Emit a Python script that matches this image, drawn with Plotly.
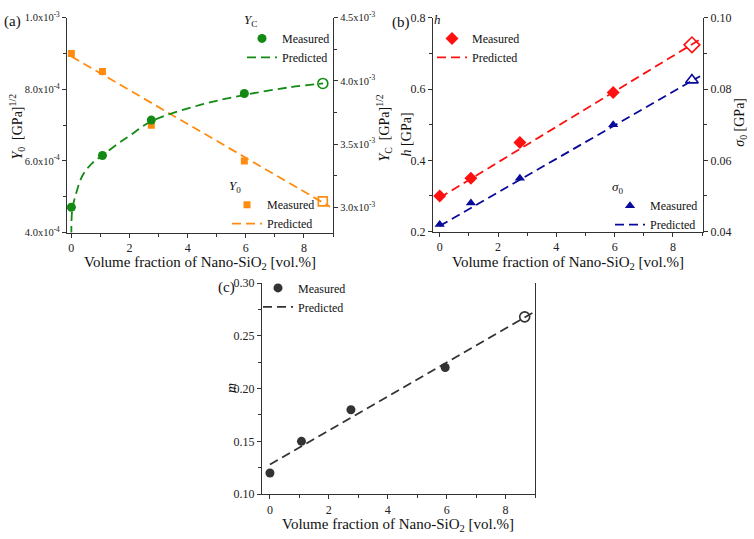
import plotly.graph_objects as go

W, H = 754, 539
FONT = "Liberation Serif, Times New Roman, Times, serif"

# ---------------- data ----------------
x_meas = [0, 1.07, 2.75, 5.95]
x_pred = [8.65]

# panel (a)
yc_meas = [3.00e-3, 3.41e-3, 3.69e-3, 3.90e-3]
yc_pred_pt = [3.98e-3]
yc_curve_x = [0, 0.03, 0.14, 0.38, 0.72, 1.07, 1.58, 2.03, 2.75, 4.43, 5.98, 7.53, 8.66]
yc_curve_y = [2.78e-3, 2.98e-3, 3.09e-3, 3.25e-3, 3.35e-3, 3.41e-3, 3.50e-3, 3.57e-3,
              3.68e-3, 3.81e-3, 3.89e-3, 3.95e-3, 3.98e-3]
y0_meas = [9.0e-4, 8.5e-4, 7.0e-4, 6.0e-4]
y0_pred_pt = [4.87e-4]
y0_line_x = [0, 8.9]
y0_line_y = [8.92e-4, 4.72e-4]

# panel (b)
h_meas = [0.30, 0.35, 0.45, 0.59]
h_pred_pt = [0.724]
h_line_x = [0, 8.95]
h_line_y = [0.295, 0.74]
s0_meas = [0.042, 0.048, 0.055, 0.070]
s0_pred_pt = [0.0825]
s0_line_x = [0, 8.93]
s0_line_y = [0.0416, 0.0836]

# panel (c)
m_meas = [0.12, 0.15, 0.18, 0.22]
m_pred_pt = [0.268]
m_line_x = [0, 8.93]
m_line_y = [0.128, 0.272]

# tick labels
x_ticks = [0, 2, 4, 6, 8]
ya_left_vals = [4e-4, 6e-4, 8e-4, 1e-3]
ya_left_text = ["4.0x10<sup>-4</sup>", "6.0x10<sup>-4</sup>", "8.0x10<sup>-4</sup>", "1.0x10<sup>-3</sup>"]
ya_left_minor = [5e-4, 7e-4, 9e-4]
ya_right_vals = [3.0e-3, 3.5e-3, 4.0e-3, 4.5e-3]
ya_right_text = ["3.0x10<sup>-3</sup>", "3.5x10<sup>-3</sup>", "4.0x10<sup>-3</sup>", "4.5x10<sup>-3</sup>"]
ya_right_minor = [3.25e-3, 3.75e-3, 4.25e-3]

GREEN = "#138a13"
ORANGE = "#ff8c10"
RED = "#ff1010"
BLUE = "#0a0a9a"
GRAY = "#333333"
DASH = "9px,5px"


def px(x):
    return x / W


def py(y):
    return 1 - y / H


fig = go.Figure()

# ---- (a) Y_C (right axis) ----
fig.add_trace(go.Scatter(x=x_meas, y=yc_meas, mode="markers", name="Measured",
                         marker=dict(symbol="circle", size=9, color=GREEN),
                         xaxis="x", yaxis="y2", legend="legend"))
fig.add_trace(go.Scatter(x=yc_curve_x, y=yc_curve_y, mode="lines", name="Predicted",
                         line=dict(color=GREEN, dash=DASH, width=1.8, shape="spline"),
                         xaxis="x", yaxis="y2", legend="legend"))
fig.add_trace(go.Scatter(x=x_pred, y=yc_pred_pt, mode="markers", showlegend=False,
                         marker=dict(symbol="circle-open", size=10, color=GREEN, line=dict(width=1.6)),
                         xaxis="x", yaxis="y2"))
# ---- (a) Y_0 (left axis) ----
fig.add_trace(go.Scatter(x=x_meas, y=y0_meas, mode="markers", name="Measured",
                         marker=dict(symbol="square", size=7, color=ORANGE),
                         xaxis="x", yaxis="y", legend="legend2"))
fig.add_trace(go.Scatter(x=y0_line_x, y=y0_line_y, mode="lines", name="Predicted",
                         line=dict(color=ORANGE, dash=DASH, width=1.8),
                         xaxis="x", yaxis="y", legend="legend2"))
fig.add_trace(go.Scatter(x=x_pred, y=y0_pred_pt, mode="markers", showlegend=False,
                         marker=dict(symbol="square-open", size=9, color=ORANGE, line=dict(width=1.6)),
                         xaxis="x", yaxis="y"))

# ---- (b) h (left) ----
fig.add_trace(go.Scatter(x=x_meas, y=h_meas, mode="markers", name="Measured",
                         marker=dict(symbol="diamond", size=10, color=RED),
                         xaxis="x2", yaxis="y3", legend="legend3"))
fig.add_trace(go.Scatter(x=h_line_x, y=h_line_y, mode="lines", name="Predicted",
                         line=dict(color=RED, dash=DASH, width=1.8),
                         xaxis="x2", yaxis="y3", legend="legend3"))
fig.add_trace(go.Scatter(x=x_pred, y=h_pred_pt, mode="markers", showlegend=False,
                         marker=dict(symbol="diamond-open", size=12, color=RED, line=dict(width=1.6)),
                         xaxis="x2", yaxis="y3"))
# ---- (b) sigma0 (right) ----
fig.add_trace(go.Scatter(x=x_meas, y=s0_meas, mode="markers", name="Measured",
                         marker=dict(symbol="triangle-up", size=9, color=BLUE),
                         xaxis="x2", yaxis="y4", legend="legend4"))
fig.add_trace(go.Scatter(x=s0_line_x, y=s0_line_y, mode="lines", name="Predicted",
                         line=dict(color=BLUE, dash=DASH, width=1.8),
                         xaxis="x2", yaxis="y4", legend="legend4"))
fig.add_trace(go.Scatter(x=x_pred, y=s0_pred_pt, mode="markers", showlegend=False,
                         marker=dict(symbol="triangle-up-open", size=11, color=BLUE, line=dict(width=1.6)),
                         xaxis="x2", yaxis="y4"))

# ---- (c) m ----
fig.add_trace(go.Scatter(x=x_meas, y=m_meas, mode="markers", name="Measured",
                         marker=dict(symbol="circle", size=9, color=GRAY),
                         xaxis="x3", yaxis="y5", legend="legend5"))
fig.add_trace(go.Scatter(x=m_line_x, y=m_line_y, mode="lines", name="Predicted",
                         line=dict(color=GRAY, dash=DASH, width=1.8),
                         xaxis="x3", yaxis="y5", legend="legend5"))
fig.add_trace(go.Scatter(x=x_pred, y=m_pred_pt, mode="markers", showlegend=False,
                         marker=dict(symbol="circle-open", size=10, color=GRAY, line=dict(width=1.6)),
                         xaxis="x3", yaxis="y5"))

tickfont = dict(family=FONT, size=12, color="#222")
expfont = dict(family=FONT, size=10.5, color="#222")
minor_common = dict(ticks="outside", ticklen=3, tickwidth=1, tickcolor="#333")


def xaxis_common(domain, anchor, rng):
    return dict(domain=domain, anchor=anchor, range=rng, showgrid=False, zeroline=False,
                showline=True, linecolor="#333", linewidth=1.2,
                ticks="outside", ticklen=4, tickwidth=1, tickcolor="#333",
                tickmode="array", tickvals=x_ticks, tickfont=tickfont,
                minor=dict(dtick=1, tick0=1, **minor_common))


def yaxis_common(domain, anchor, rng, **kw):
    d = dict(domain=domain, anchor=anchor, range=rng, showgrid=False, zeroline=False,
             showline=True, linecolor="#333", linewidth=1.2,
             ticks="outside", ticklen=4, tickwidth=1, tickcolor="#333", tickfont=tickfont)
    d.update(kw)
    return d


dom_ax = [px(67), px(333)]
dom_ay = [py(231), py(10)]
dom_bx = [px(433), px(703)]
dom_by = [py(230), py(10)]
dom_cx = [px(262), px(535)]
dom_cy = [py(500), py(283)]

fig.update_layout(
    width=W, height=H, margin=dict(l=0, r=0, t=0, b=0),
    paper_bgcolor="white", plot_bgcolor="white",
    font=dict(family=FONT, size=13, color="#111"),
    xaxis=xaxis_common(dom_ax, "y", [-0.15, 9.0]),
    yaxis=yaxis_common(dom_ay, "x", [4e-4, 1e-3], tickmode="array", tickvals=ya_left_vals,
                       ticktext=ya_left_text, tickfont=expfont,
                       minor=dict(tickmode="array", tickvals=ya_left_minor, **minor_common)),
    yaxis2=yaxis_common(dom_ay, "x", [2.8e-3, 4.5e-3], overlaying="y", side="right",
                        tickmode="array", tickvals=ya_right_vals, ticktext=ya_right_text,
                        tickfont=expfont,
                        minor=dict(tickmode="array", tickvals=ya_right_minor, **minor_common)),
    xaxis2=xaxis_common(dom_bx, "y3", [-0.23, 9.03]),
    yaxis3=yaxis_common(dom_by, "x2", [0.2, 0.8], tickmode="array",
                        tickvals=[0.2, 0.4, 0.6, 0.8], ticktext=["0.2", "0.4", "0.6", "0.8"],
                        minor=dict(tickmode="array", tickvals=[0.3, 0.5, 0.7], **minor_common)),
    yaxis4=yaxis_common(dom_by, "x2", [0.04, 0.10], overlaying="y3", side="right",
                        tickmode="array", tickvals=[0.04, 0.06, 0.08, 0.10],
                        ticktext=["0.04", "0.06", "0.08", "0.10"],
                        minor=dict(tickmode="array", tickvals=[0.05, 0.07, 0.09], **minor_common)),
    xaxis3=xaxis_common(dom_cx, "y5", [-0.27, 9.0]),
    yaxis5=yaxis_common(dom_cy, "x3", [0.10, 0.30], tickmode="array",
                        tickvals=[0.10, 0.15, 0.20, 0.25, 0.30],
                        ticktext=["0.10", "0.15", "0.20", "0.25", "0.30"], mirror=True,
                        minor=dict(tickmode="array", tickvals=[0.125, 0.175, 0.225, 0.275], **minor_common)),
)

leg_common = dict(bgcolor="rgba(0,0,0,0)", borderwidth=0, xanchor="left", yanchor="top",
                  font=dict(family=FONT, size=12, color="#111"), tracegroupgap=0,
                  itemclick=False)
tfont = dict(family=FONT, size=13, color="#111")
fig.update_layout(
    legend=dict(x=px(242), y=py(-1), title=dict(text="<i>Y</i><sub>C</sub>", font=tfont), **leg_common),
    legend2=dict(x=px(227), y=py(170), title=dict(text="<i>Y</i><sub>0</sub>", font=tfont), **leg_common),
    legend3=dict(x=px(432), y=py(-1), title=dict(text="<i>h</i>", font=tfont), **leg_common),
    legend4=dict(x=px(610), y=py(171), title=dict(text="<i>σ</i><sub>0</sub>", font=tfont), **leg_common),
    legend5=dict(x=px(258), y=py(273), **leg_common),
)

ann = []
def add_text(x, y, text, size=14, angle=0):
    ann.append(dict(x=px(x), y=py(y), xref="paper", yref="paper", text=text, showarrow=False,
                    textangle=angle, font=dict(family=FONT, size=size, color="#111"),
                    xanchor="center", yanchor="middle"))

xtitle = "Volume fraction of Nano-SiO<sub>2</sub> [vol.%]"
add_text(200, 262, xtitle, 15)
add_text(568, 262, xtitle, 15)
add_text(398, 532, xtitle, 15)
add_text(17, 122, "<i>Y</i><sub>0</sub>  [GPa]<sup>1/2</sup>", 14, -90)
add_text(384, 124, "<i>Y</i><sub>C</sub>  [GPa]<sup>1/2</sup>", 14, -90)
add_text(406, 130, "<i>h</i> [GPa]", 14, -90)
add_text(741, 118, "<i>σ</i><sub>0</sub> [GPa]", 14, -90)
add_text(231, 391, "<i>m</i>", 14, -90)
add_text(12, 14, "(a)", 15)
add_text(401, 15, "(b)", 15)
add_text(226, 287, "(c)", 15)
fig.update_layout(annotations=ann)

fig.write_html("out.html", config={"displayModeBar": False},
               post_script="document.body.style.margin='0';document.body.style.padding='0';")
